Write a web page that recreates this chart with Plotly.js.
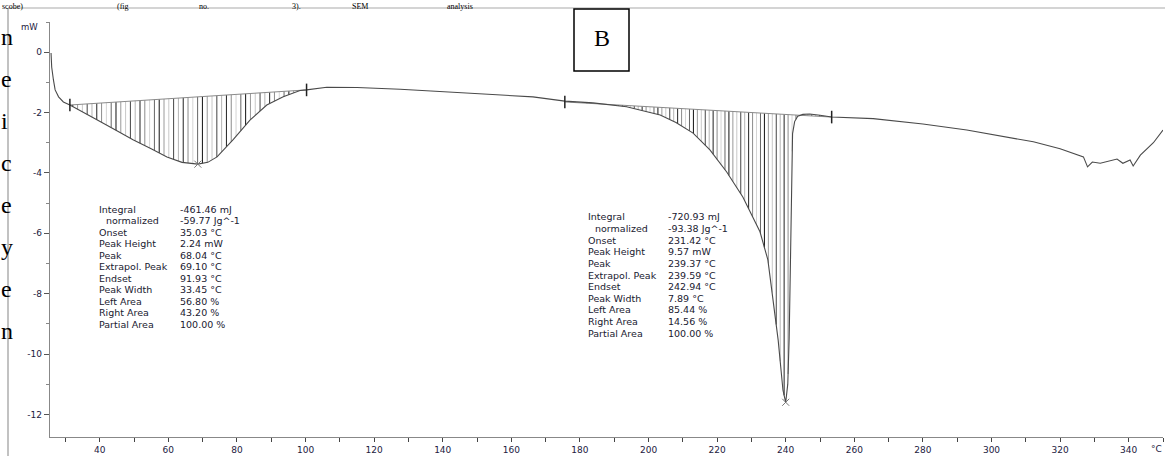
<!DOCTYPE html>
<html>
<head>
<meta charset="utf-8">
<script src="https://cdn.plot.ly/plotly-3.0.1.min.js"></script>
<style>html,body{margin:0;padding:0;background:#fff;}#chart{width:1165px;height:456px;}</style>
</head>
<body>
<div id="chart"></div>
<script>
// ---- DSC curve (temperature °C, heat flow mW) ----
const tempC = [25.8, 26.0, 26.5, 27.0, 28.0, 29.4, 31.3, 35.2, 40.1, 45, 49.7, 55, 59.6, 64, 68.6, 71.5, 74.2, 78.9, 83.8, 88.7, 93.5, 98.4, 100.3, 106.2, 115, 127.6, 147, 166.3, 175.6, 183.8, 193.6, 203.4, 208, 213, 217.9, 222.8, 227.5, 232.5, 234.8, 236, 237.8, 239.2, 240.0, 240.6, 241.0, 241.3, 241.5, 241.7, 242.0, 242.6, 243.5, 245, 247, 250, 253.4, 265.5, 280, 292.8, 312.2, 320, 326.8, 328, 329.4, 331.7, 334, 336.6, 338.3, 340.4, 341.3, 343.4, 347.2, 350];
const heatFlow = [-0.03, -0.5, -0.92, -1.25, -1.48, -1.65, -1.75, -2.0, -2.3, -2.6, -2.9, -3.2, -3.47, -3.65, -3.71, -3.65, -3.47, -2.9, -2.25, -1.75, -1.48, -1.27, -1.25, -1.16, -1.17, -1.23, -1.35, -1.48, -1.62, -1.68, -1.81, -2.08, -2.33, -2.68, -3.24, -3.97, -4.8, -5.95, -6.88, -7.88, -9.54, -11.2, -11.6, -11.0, -9.5, -7.5, -5.5, -3.8, -2.7, -2.3, -2.12, -2.06, -2.05, -2.09, -2.15, -2.2, -2.38, -2.58, -2.97, -3.2, -3.47, -3.8, -3.64, -3.68, -3.62, -3.54, -3.68, -3.57, -3.77, -3.41, -3.0, -2.58];

// integration baselines (limits)
const base1T = [31.3, 100.3];
const base1MW = [-1.75, -1.25];
const base2T = [175.6, 253.4];
const base2MW = [-1.65, -2.15];

// peak markers
const peakT = [68.6, 240.0];
const peakMW = [-3.71, -11.6];

// result tables
const rowLabels = ['Integral', 'normalized', 'Onset', 'Peak Height', 'Peak', 'Extrapol. Peak', 'Endset', 'Peak Width', 'Left Area', 'Right Area', 'Partial Area'];
const values1 = ['-461.46 mJ', '-59.77 Jg^-1', '35.03 °C', '2.24 mW', '68.04 °C', '69.10 °C', '91.93 °C', '33.45 °C', '56.80 %', '43.20 %', '100.00 %'];
const values2 = ['-720.93 mJ', '-93.38 Jg^-1', '231.42 °C', '9.57 mW', '239.37 °C', '239.59 °C', '242.94 °C', '7.89 °C', '85.44 %', '14.56 %', '100.00 %'];

// tick labels
const xTicks = [40, 60, 80, 100, 120, 140, 160, 180, 200, 220, 240, 260, 280, 300, 320, 340];
const yTicks = [0, -2, -4, -6, -8, -10, -12];

// surrounding document text fragments
const docWords = ['scobe)', '(fig', 'no.', '3).', 'SEM', 'analysis'];
const docLetters = ['n', 'e', 'i', 'c', 'e', 'y', 'e', 'n'];

// ---------------------------------------------------------------
function interp(xs, ys, x) {
  for (let i = 0; i < xs.length - 1; i++) {
    if (x >= xs[i] && x <= xs[i + 1]) {
      const t = (x - xs[i]) / (xs[i + 1] - xs[i]);
      return ys[i] + t * (ys[i + 1] - ys[i]);
    }
  }
  return ys[ys.length - 1];
}

const hatchColors = ['#111111', '#9a9a9a', '#c8c8c8', '#444444', '#b5b5b5', '#222222', '#8c8c8c', '#d5d5d5', '#666666'];
const hatch = hatchColors.map(() => ({x: [], y: []}));
let hIdx = 0;
function addHatch(bT, bMW, step) {
  for (let T = bT[0] + step * 0.6; T < bT[1] - 0.2; T += step) {
    const yb = interp(bT, bMW, T);
    const yc = interp(tempC, heatFlow, T);
    const h = hatch[hIdx % hatchColors.length];
    h.x.push(T, T, null);
    h.y.push(yb, yc, null);
    hIdx++;
  }
}
addHatch(base1T, base1MW, 1.4);
addHatch(base2T, base2MW, 1.15);

const traces = [];
hatch.forEach((h, i) => traces.push({
  x: h.x, y: h.y, mode: 'lines', type: 'scatter',
  line: {color: hatchColors[i], width: 1}, hoverinfo: 'skip', showlegend: false
}));
traces.push({x: base1T, y: base1MW, mode: 'lines', line: {color: '#8a8a8a', width: 1}, showlegend: false, hoverinfo: 'skip'});
traces.push({x: base2T, y: base2MW, mode: 'lines', line: {color: '#8a8a8a', width: 1}, showlegend: false, hoverinfo: 'skip'});
traces.push({x: tempC, y: heatFlow, mode: 'lines', line: {color: '#4a4a4a', width: 1.1}, showlegend: false});
traces.push({
  x: base1T.concat(base2T), y: base1MW.concat(base2MW), mode: 'markers',
  marker: {symbol: 'line-ns-open', size: 9, color: '#222', line: {color: '#222', width: 1.5}}, showlegend: false, hoverinfo: 'skip'
});
traces.push({
  x: peakT, y: peakMW, mode: 'markers',
  marker: {symbol: 'x-thin-open', size: 7, color: '#777', line: {color: '#777', width: 1}}, showlegend: false
});

// pixel -> paper helpers (plot area: left 50, right 1163, top 22, bottom 437)
const PL = 50, PR = 1163, PT = 22, PB = 437;
const px = v => (v - PL) / (PR - PL);
const py = v => (PB - v) / (PB - PT);

const annotations = [];
const tFont = {family: 'DejaVu Sans, Verdana, sans-serif', size: 9.5, color: '#202030'};
function addTable(vals, lx, vx, y0, dy) {
  rowLabels.forEach((lab, i) => {
    annotations.push({xref: 'paper', yref: 'paper', x: px(lx + (i === 1 ? 7 : 0)), y: py(y0 + i * dy),
      xanchor: 'left', yanchor: 'middle', text: lab, showarrow: false, font: tFont});
    annotations.push({xref: 'paper', yref: 'paper', x: px(vx), y: py(y0 + i * dy),
      xanchor: 'left', yanchor: 'middle', text: vals[i], showarrow: false, font: tFont});
  });
}
addTable(values1, 97, 177.5, 209, 11.5);
addTable(values2, 586, 666, 216.7, 11.66);

annotations.push({xref: 'paper', yref: 'paper', x: px(40), y: py(27), xanchor: 'right', yanchor: 'middle',
  text: 'mW', showarrow: false, font: {family: 'DejaVu Sans, sans-serif', size: 8.5, color: '#1c2040'}});
annotations.push({xref: 'paper', yref: 'paper', x: px(1149), y: py(449), xanchor: 'left', yanchor: 'middle',
  text: '°C', showarrow: false, font: {family: 'DejaVu Sans, sans-serif', size: 9, color: '#1c2040'}});
annotations.push({xref: 'paper', yref: 'paper', x: px(601.5), y: py(38), xanchor: 'center', yanchor: 'middle',
  text: 'B', showarrow: false, font: {family: 'Liberation Serif, Times New Roman, serif', size: 24, color: '#000'}});

const wordX = [0, 115, 197, 290, 350, 445];
docWords.forEach((w, i) => annotations.push({xref: 'paper', yref: 'paper', x: px(wordX[i]), y: py(0),
  xanchor: 'left', yanchor: 'top', text: w, showarrow: false,
  font: {family: 'Liberation Serif, serif', size: 8, color: '#000'}}));
docLetters.forEach((c, i) => annotations.push({xref: 'paper', yref: 'paper', x: px(-1), y: py(37 + i * 42),
  xanchor: 'left', yanchor: 'middle', text: c, showarrow: false,
  font: {family: 'Liberation Serif, serif', size: 24, color: '#000'}}));

const shapes = [
  {type: 'line', xref: 'paper', yref: 'paper', x0: px(8), x1: px(8), y0: py(8), y1: py(456), line: {color: '#999', width: 1.2}},
  {type: 'line', xref: 'paper', yref: 'paper', x0: px(8), x1: px(1165), y0: py(8), y1: py(8), line: {color: '#aaa', width: 1.2}},
  {type: 'rect', xref: 'paper', yref: 'paper', x0: px(574), x1: px(629), y0: py(71), y1: py(9), line: {color: '#000', width: 1.5}, fillcolor: 'rgba(0,0,0,0)'}
];

const axFont = {family: 'DejaVu Sans, Verdana, sans-serif', size: 9, color: '#1c2040'};
const layout = {
  width: 1165, height: 456,
  margin: {l: PL, r: 1165 - PR, t: PT, b: 456 - PB, pad: 0},
  paper_bgcolor: '#fff', plot_bgcolor: '#fff',
  showlegend: false,
  xaxis: {
    range: [25.5, 350], tickvals: xTicks, ticktext: xTicks.map(String),
    showline: true, linecolor: '#888', linewidth: 1.3, ticks: 'outside', ticklen: 4, tickcolor: '#444',
    minor: {dtick: 10, tick0: 0, ticks: 'outside', ticklen: 4, tickcolor: '#444'},
    showgrid: false, zeroline: false, tickfont: axFont, fixedrange: true
  },
  yaxis: {
    range: [-12.75, 1.0], tickvals: yTicks, ticktext: yTicks.map(String),
    showline: true, linecolor: '#888', linewidth: 1.3, ticks: 'outside', ticklen: 5, tickcolor: '#555',
    minor: {dtick: 1, tick0: 0, ticks: 'outside', ticklen: 3, tickcolor: '#888'},
    showgrid: false, zeroline: false, tickfont: axFont, fixedrange: true
  },
  annotations: annotations,
  shapes: shapes
};

Plotly.newPlot('chart', traces, layout, {displayModeBar: false, staticPlot: true});
</script>
</body>
</html>
